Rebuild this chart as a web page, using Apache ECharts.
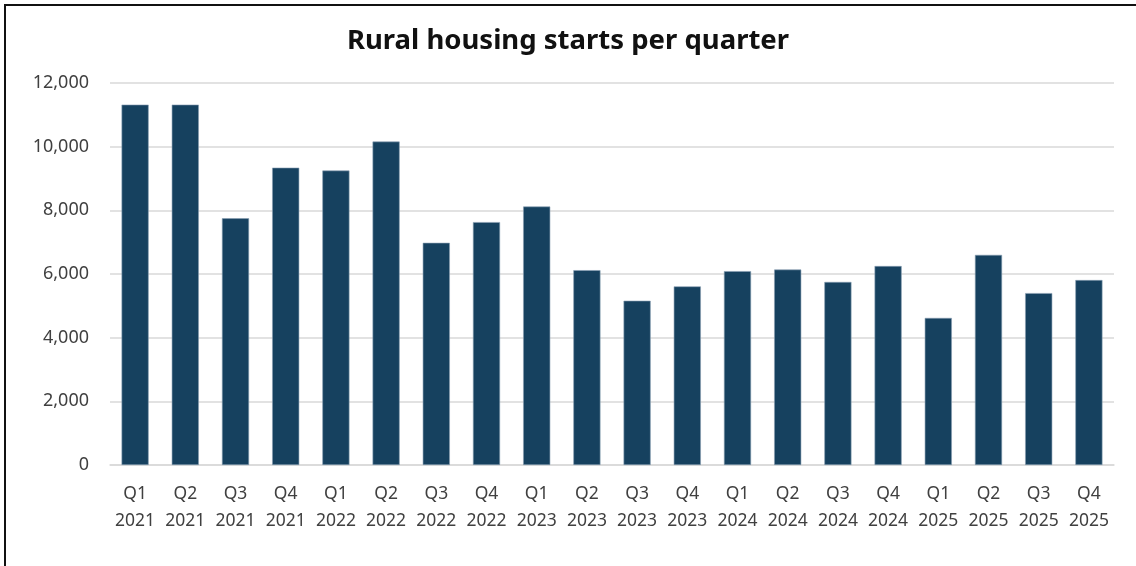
<!DOCTYPE html>
<html>
<head>
<meta charset="utf-8">
<script src="https://cdn.jsdelivr.net/npm/echarts@6/dist/echarts.min.js"></script>
<style>
  html, body { margin: 0; padding: 0; background: #fff; overflow: hidden; }
  #chart { width: 1136px; height: 566px; }
  .frame {
    position: absolute; left: 4px; top: 4px; width: 1200px; height: 700px;
    border-left: 2px solid #111; border-top: 2px solid #111;
    pointer-events: none;
  }
</style>
</head>
<body>
<div id="chart"></div>
<div class="frame"></div>
<script>
const quarters = ['Q1', 'Q2', 'Q3', 'Q4', 'Q1', 'Q2', 'Q3', 'Q4', 'Q1', 'Q2', 'Q3', 'Q4', 'Q1', 'Q2', 'Q3', 'Q4', 'Q1', 'Q2', 'Q3', 'Q4'];
const years = ['2021', '2021', '2021', '2021', '2022', '2022', '2022', '2022', '2023', '2023', '2023', '2023', '2024', '2024', '2024', '2024', '2025', '2025', '2025', '2025'];
const starts = [11320, 11320, 7750, 9340, 9250, 10160, 6980, 7630, 8120, 6120, 5160, 5610, 6090, 6140, 5750, 6250, 4620, 6600, 5400, 5810];
const yTicks = [0, 2000, 4000, 6000, 8000, 10000, 12000];

const categories = quarters.map((q, i) => q + '\n' + years[i]);

const myChart = echarts.init(document.getElementById('chart'));

const option = {
  animation: false,
  title: {
    text: 'Rural housing starts per quarter',
    left: 'center',
    top: 22,
    textStyle: {
      fontFamily: 'Noto Sans',
      fontWeight: 'bold',
      fontSize: 27.5,
      color: '#111'
    }
  },
  grid: {
    left: 110,
    right: 22,
    top: 83,
    bottom: 101
  },
  xAxis: {
    type: 'category',
    data: categories,
    axisTick: { show: false },
    axisLine: { lineStyle: { color: '#d9d9d9', width: 1.5 } },
    axisLabel: {
      color: '#404040',
      fontFamily: 'Noto Sans',
      fontSize: 17.5,
      lineHeight: 27,
      margin: 16,
      interval: 0
    }
  },
  yAxis: {
    type: 'value',
    min: yTicks[0],
    max: yTicks[yTicks.length - 1],
    interval: 2000,
    axisLine: { show: false },
    axisTick: { show: false },
    splitLine: { lineStyle: { color: '#d9d9d9', width: 1.5 } },
    axisLabel: {
      color: '#404040',
      fontFamily: 'Noto Sans',
      fontSize: 18,
      margin: 21,
      formatter: v => v.toLocaleString('en-US')
    }
  },
  series: [
    {
      type: 'bar',
      data: starts,
      barWidth: '54%',
      itemStyle: {
        color: '#16415f',
        borderColor: '#8aa0b3',
        borderWidth: 0.6
      }
    }
  ]
};

myChart.setOption(option);
</script>
</body>
</html>
